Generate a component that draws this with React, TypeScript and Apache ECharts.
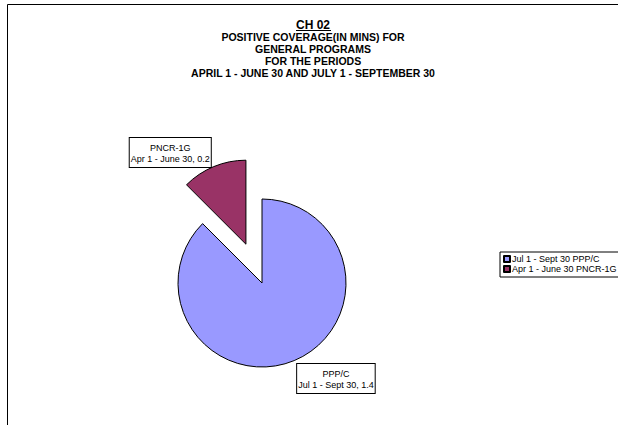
import React, { useEffect, useRef } from "react";
import * as echarts from "echarts";

const categories = ["PPP/C", "PNCR-1G"];
const periods = ["Jul 1 - Sept 30", "Apr 1 - June 30"];
const values = [1.4, 0.2];
const colors = ["#9999FF", "#993366"];
const titleLines = [
  "POSITIVE COVERAGE(IN MINS) FOR",
  "GENERAL PROGRAMS",
  "FOR THE PERIODS",
  "APRIL 1 - JUNE 30 AND JULY 1 - SEPTEMBER 30",
];

export default function App() {
  const ref = useRef<HTMLDivElement>(null);
  useEffect(() => {
    if (!ref.current) return;
    const chart = echarts.init(ref.current, undefined, { renderer: "svg" });
    const data = categories.map((c, i) => ({
      name: `${periods[i]} ${c}`,
      value: values[i],
      selected: i === 1,
      itemStyle: { color: colors[i] },
    }));
    const tok = { fontFamily: "Arial, Liberation Sans", fontSize: 9, color: "#000", lineHeight: 11, align: "center" };
    chart.setOption({
      animation: false,
      backgroundColor: "#ffffff",
      title: {
        text: "CH 02",
        subtext: titleLines.join("\n"),
        left: 313,
        top: 19,
        textAlign: "center",
        itemGap: 0,
        padding: 0,
        textStyle: { fontFamily: "Arial, Liberation Sans", fontSize: 12, lineHeight: 12, fontWeight: "bold", color: "#000" },
        subtextStyle: { fontFamily: "Arial, Liberation Sans", fontSize: 10.5, fontWeight: "bold", color: "#000", lineHeight: 12 },
      },
      graphic: [
        {
          type: "rect",
          shape: { x: 7.5, y: 4.5, width: 700, height: 500 },
          style: { fill: "none", stroke: "#000", lineWidth: 1 },
          silent: true,
        },
        {
          type: "line",
          shape: { x1: 296, y1: 30.5, x2: 331, y2: 30.5 },
          style: { stroke: "#000", lineWidth: 1 },
          silent: true,
        },
      ],
      legend: {
        orient: "vertical",
        left: 500,
        top: 252,
        itemWidth: 6,
        itemHeight: 6,
        itemGap: 0,
        padding: [2, 40, 3, 3],
        borderColor: "#000",
        borderWidth: 1,
        backgroundColor: "#fff",
        icon: "rect",
        selectedMode: false,
        textStyle: { fontFamily: "Arial, Liberation Sans", fontSize: 9, lineHeight: 10, color: "#000", padding: [0, 0, 0, -3] },
        data: data.map((d) => d.name),
      },
      series: [
        {
          type: "pie",
          center: [262, 283],
          radius: 84,
          startAngle: 90,
          clockwise: true,
          selectedMode: "single",
          selectedOffset: 42,
          avoidLabelOverlap: false,
          itemStyle: { borderColor: "#000", borderWidth: 1 },
          select: { itemStyle: { borderColor: "#000", borderWidth: 1 } },
          emphasis: { disabled: true },
          label: {
            show: true,
            position: "outside",
            fontFamily: "Arial, Liberation Sans",
            fontSize: 9,
            color: "#000",
            lineHeight: 11,
            backgroundColor: "#fff",
            borderColor: "#000",
            borderWidth: 1,
            padding: [4, 1, 3, 1],
            rich: { c: tok },
            formatter: (p: any) =>
              `{c|${categories[p.dataIndex]}}\n{c|${periods[p.dataIndex]}, ${values[p.dataIndex]}}`,
          },
          labelLine: { show: false, length: 0, length2: 0 },
          labelLayout: (p: any) => {
            if (p.dataIndex === 0) {
              return { dx: -2, dy: 18 };
            }
            return { dx: 2, dy: -14 };
          },
          data,
        },
      ],
    });
    return () => chart.dispose();
  }, []);
  return <div ref={ref} style={{ position: "fixed", left: 0, top: 0, width: 618, height: 425 }} />;
}
